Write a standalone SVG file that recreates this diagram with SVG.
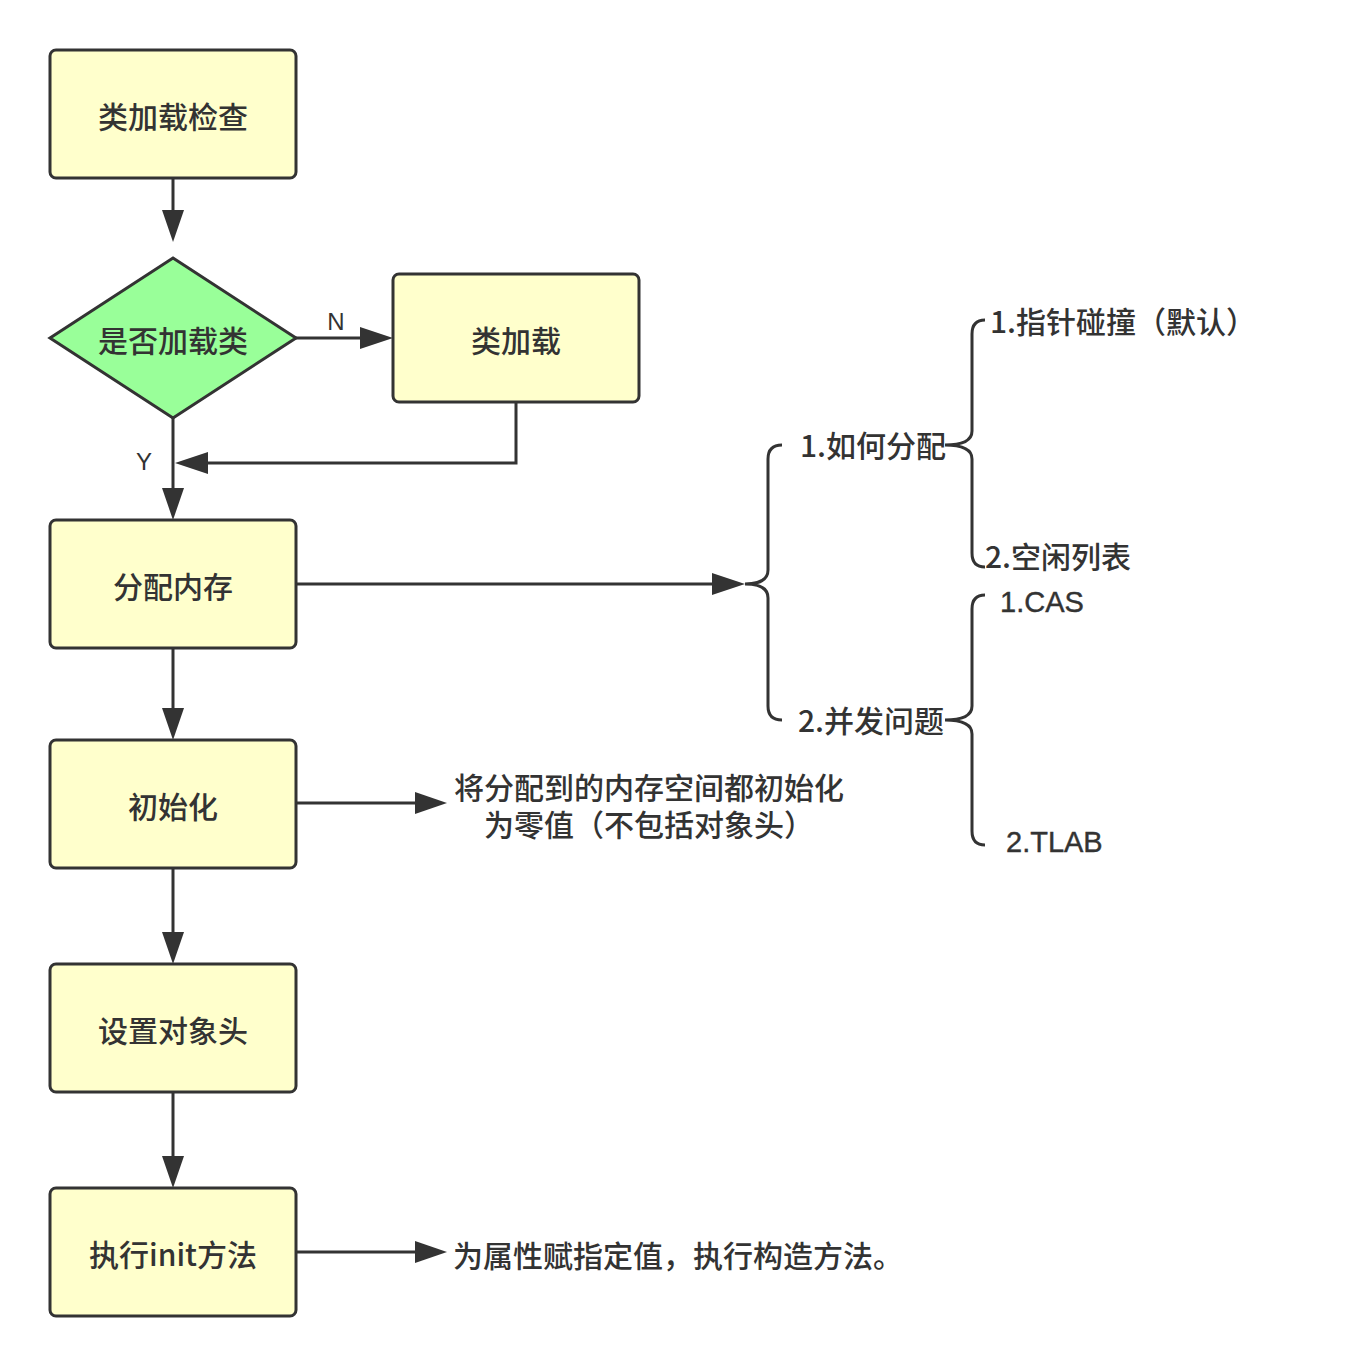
<svg xmlns="http://www.w3.org/2000/svg" width="1345" height="1366" viewBox="0 0 1345 1366">
<style>
.box{fill:#ffffcc;stroke:#333;stroke-width:3}
.dia{fill:#99ff99;stroke:#333;stroke-width:3}
.t{font-family:"Noto Sans CJK SC","Liberation Sans",sans-serif;font-size:30px;fill:#333;font-weight:500}
.lat{font-family:"Liberation Sans","Noto Sans CJK SC",sans-serif;font-size:29px;fill:#333;stroke:#333;stroke-width:0.4}
.c{text-anchor:middle}
.lbl{font-family:"Liberation Sans","Noto Sans CJK SC",sans-serif;font-size:24px;fill:#333}
.ln{fill:none;stroke:#333;stroke-width:3}
.ah{fill:#333}
</style>
<rect width="1345" height="1366" fill="#fff"/>
<g id="connectors">
<path class="ln" d="M173,178 V212"/><polygon class="ah" points="162,210 184,210 173,242"/>
<path class="ln" d="M296,338 H362"/><polygon class="ah" points="360,327 360,349 393,338"/>
<path class="ln" d="M516,402 V463 H206"/><polygon class="ah" points="208,452 208,474 175,463"/>
<path class="ln" d="M173,418 V490"/><polygon class="ah" points="162,488 184,488 173,520"/>
<path class="ln" d="M173,648 V710"/><polygon class="ah" points="162,708 184,708 173,740"/>
<path class="ln" d="M173,868 V934"/><polygon class="ah" points="162,932 184,932 173,964"/>
<path class="ln" d="M173,1092 V1158"/><polygon class="ah" points="162,1156 184,1156 173,1188"/>
<path class="ln" d="M296,584 H715"/><polygon class="ah" points="712,573 712,595 745,584"/>
<path class="ln" d="M296,803 H417"/><polygon class="ah" points="415,792 415,814 447,803"/>
<path class="ln" d="M296,1252 H417"/><polygon class="ah" points="415,1241 415,1263 447,1252"/>
<path class="ln" d="M782,445 Q768,445 768,459 L768,570 Q768,584 745,584 Q768,584 768,598 L768,706 Q768,720 782,720"/>
<path class="ln" d="M985,320 Q972,320 972,334 L972,431 Q972,445 945,445 Q972,445 972,459 L972,553 Q972,567 985,567"/>
<path class="ln" d="M985,595 Q972,595 972,609 L972,706 Q972,720 945,720 Q972,720 972,734 L972,831 Q972,845 985,845"/>
<text class="lbl" x="336" y="330" text-anchor="middle">N</text>
<text class="lbl" x="144" y="470" text-anchor="middle">Y</text>
</g>
<g id="n1"><rect class="box" x="50" y="50" width="246" height="128" rx="6"/><text class="t c" x="173" y="128">类加载检查</text></g>
<g id="n2"><polygon class="dia" points="173,258 296,338 173,418 50,338"/><text class="t c" x="173" y="352">是否加载类</text></g>
<g id="n3"><rect class="box" x="393" y="274" width="246" height="128" rx="6"/><text class="t c" x="516" y="352">类加载</text></g>
<g id="n4"><rect class="box" x="50" y="520" width="246" height="128" rx="6"/><text class="t c" x="173" y="598">分配内存</text></g>
<g id="n5"><rect class="box" x="50" y="740" width="246" height="128" rx="6"/><text class="t c" x="173" y="818">初始化</text></g>
<g id="n6"><rect class="box" x="50" y="964" width="246" height="128" rx="6"/><text class="t c" x="173" y="1042">设置对象头</text></g>
<g id="n7"><rect class="box" x="50" y="1188" width="246" height="128" rx="6"/><text class="t c" x="173" y="1266">执行init方法</text></g>
<g id="t1"><text class="t c" x="649" y="799">将分配到的内存空间都初始化</text><text class="t c" x="649" y="836">为零值（不包括对象头）</text></g>
<g id="t2"><text class="t" x="453" y="1267">为属性赋指定值，执行构造方法。</text></g>
<g id="b1"><text class="t" x="800" y="457">1.如何分配</text></g>
<g id="b2"><text class="t" x="798" y="732">2.并发问题</text></g>
<g id="b3"><text class="t" x="990" y="333">1.指针碰撞（默认）</text></g>
<g id="b4"><text class="t" x="985" y="568">2.空闲列表</text></g>
<g id="b5"><text class="lat" x="1000" y="612">1.CAS</text></g>
<g id="b6"><text class="lat" x="1006" y="852">2.TLAB</text></g>
</svg>
